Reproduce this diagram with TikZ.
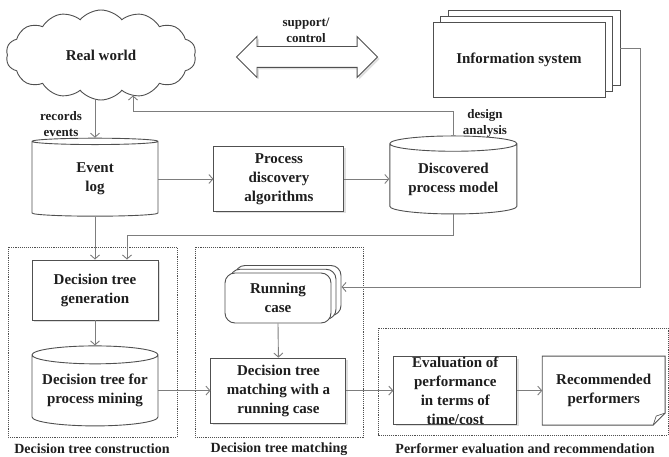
\documentclass[tikz,border=0pt]{standalone}
\usepackage{fontspec}
\setmainfont{Liberation Serif}
\usetikzlibrary{positioning, arrows.meta}
\usetikzlibrary{shapes.geometric, shapes.symbols, shapes.arrows, shadows}

\definecolor{linegray}{RGB}{125,125,125}
\definecolor{boxgray}{RGB}{80,80,80}
\definecolor{txtgray}{RGB}{30,30,30}

\begin{document}
\begin{tikzpicture}[x=1pt, y=-1pt, >={Straight Barb[length=4pt,width=9pt]}]
    \tikzset{basic/.style = {draw=boxgray, line width=0.9pt, fill=white, align=center, text=txtgray,
                             font=\fontsize{15}{19}\selectfont\bfseries, inner sep=0pt},
             block/.style = {basic, rectangle, drop shadow={opacity=0.25, shadow xshift=2pt, shadow yshift=-2pt}},
             store/.style = {basic, cylinder, shape border rotate=90, aspect=0.17},
             stack/.style = {copy shadow={shadow xshift=2*#1, shadow yshift=1.5*#1, fill=white, draw=boxgray, line width=0.9pt},
                             copy shadow={shadow xshift=#1, shadow yshift=0.75*#1, fill=white, draw=boxgray, line width=0.9pt}},
             note/.style = {align=center, text=txtgray, font=\fontsize{13}{16}\selectfont\bfseries},
             grpname/.style = {text=txtgray, font=\fontsize{14}{16}\selectfont\bfseries},
             grpbox/.style = {draw=boxgray, densely dotted, line width=0.9pt},
             flow/.style = {draw=linegray, line width=0.9pt, ->}
            }
    \useasboundingbox (0,0) rectangle (669,457);

    % top row
    \node (world) [basic, cloud, cloud puffs=14, cloud puff arc=100, aspect=2.1,
                   minimum width=190pt, minimum height=90pt] at (101,55) {Real world};
    \node (ctrl) [basic, double arrow, double arrow head extend=10pt, inner ysep=10pt, minimum height=141pt,
                  drop shadow={opacity=0.25, shadow xshift=2pt, shadow yshift=-2pt}] at (307,57) {};
    \node (ctrlnote) [note] at (306,30) {support/\\control};
    \node (isys) [basic, rectangle, stack=7.5pt, minimum width=172pt, minimum height=75pt] at (519,59.5) {Information system};

    % discovery row
    \node (elog) [store, minimum width=126pt, minimum height=78pt] at (95,179) {Event\\log};
    \node (pdisc) [block, right=55pt of elog, minimum width=130pt, minimum height=65pt] {Process\\discovery\\algorithms};
    \node (dpm) [store, right=45pt of pdisc, minimum width=127pt, minimum height=78pt] {Discovered\\process model};
    \node (recnote) [note] at (61,124) {records\\events};
    \node (desnote) [note] at (485,123) {design\\analysis};

    % groups
    \draw[grpbox] (8,247) rectangle (177,437);
    \draw[grpbox] (195,247) rectangle (363,437);
    \draw[grpbox] (378,328) rectangle (668,435);
    \node (grpa) [grpname] at (92,449) {Decision tree construction};
    \node (grpb) [grpname] at (279,449) {Decision tree matching};
    \node (grpc) [grpname] at (525,449) {Performer evaluation and recommendation};

    % bottom rows
    \node (dtgen) [block, minimum width=126pt, minimum height=60pt] at (95,290) {Decision tree\\generation};
    \node (dtpm) [store, below=25pt of dtgen, minimum width=126pt, minimum height=80pt] {Decision tree for\\process mining};
    \node (run) [basic, rectangle, rounded corners=10pt, stack=5pt, minimum width=106pt, minimum height=50pt] at (278,298) {Running\\case};
    \node (dtmatch) [block, right=52pt of dtpm, minimum width=135pt, minimum height=65pt] {Decision tree\\matching with a\\running case};
    \node (eval) [block, right=47pt of dtmatch, minimum width=123pt, minimum height=65pt] {Evaluation of\\performance\\in terms of\\time/cost};
    \node (rec) [basic, draw=none, fill=none, right=25pt of eval, minimum width=122pt, minimum height=68pt] {Recommended\\performers};
    \draw[boxgray, line width=0.9pt] (rec.north west) -- (rec.north east) -- ([yshift=12pt]rec.south east)
        -- ([xshift=-12pt]rec.south east) -- (rec.south west) -- cycle;
    \draw[boxgray, line width=0.7pt] ([yshift=12pt]rec.south east) -- ([shift={(-9pt,9pt)}]rec.south east)
        -- ([xshift=-12pt]rec.south east);

    % connectors
    \draw[flow] (elog.north |- world.south) -- (elog.north);
    \draw[flow] (elog.east) -- (pdisc.west);
    \draw[flow] (pdisc.east) -- (dpm.west);
    \draw[flow] (dpm.north) -- ++(0,-24) -| ([shift={(32pt,5pt)}]world.south);
    \draw[flow] (dpm.south) -- ++(0,21) -| ([xshift=32pt]dtgen.north);
    \draw[flow] (elog.south) -- (dtgen.north);
    \draw[flow] (dtgen.south) -- (dtpm.north);
    \draw[flow] ([shift={(15pt,11pt)}]isys.east) -- ++(20,0) |- ([shift={(10pt,11pt)}]run.east);
    \draw[flow] (run.south) -- (dtmatch.north);
    \draw[flow] (dtpm.east) -- (dtmatch.west);
    \draw[flow] (dtmatch.east) -- (eval.west);
    \draw[flow] (eval.east) -- (rec.west);
\end{tikzpicture}
\end{document}
